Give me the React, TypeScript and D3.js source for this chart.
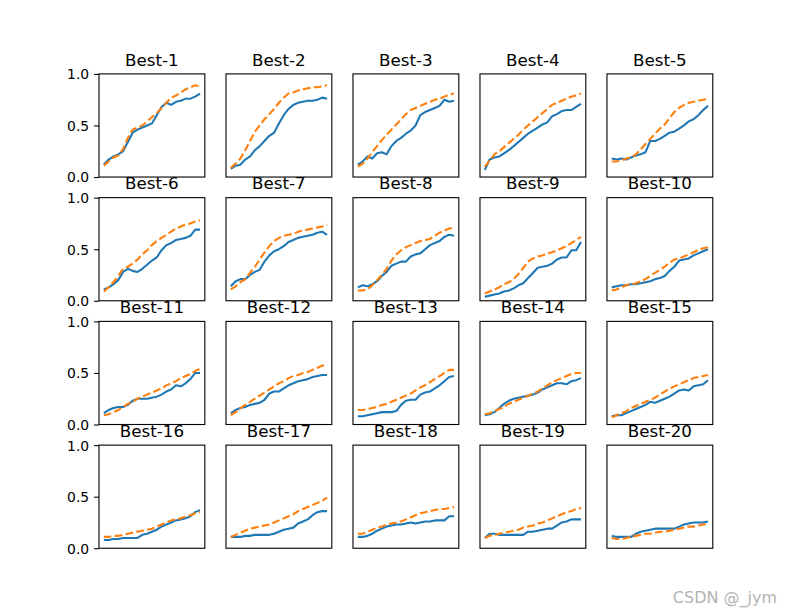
import React, { useEffect, useRef } from 'react';
import * as d3 from 'd3';

const titles = d3.range(1, 21).map(i => `Best-${i}`);
const yTicks = [0, 0.5, 1.0];

// blue solid line, one row per subplot (21 samples each)
const blueSeries: number[][] = [
  [0.12, 0.17, 0.20, 0.22, 0.25, 0.34, 0.43, 0.46, 0.48, 0.50, 0.52, 0.60, 0.68, 0.72, 0.70, 0.73, 0.74, 0.76, 0.76, 0.78, 0.81],
  [0.08, 0.11, 0.12, 0.17, 0.20, 0.26, 0.30, 0.35, 0.40, 0.43, 0.52, 0.60, 0.66, 0.70, 0.72, 0.73, 0.74, 0.74, 0.75, 0.77, 0.76],
  [0.12, 0.15, 0.20, 0.18, 0.23, 0.24, 0.22, 0.30, 0.35, 0.38, 0.42, 0.45, 0.50, 0.60, 0.63, 0.65, 0.67, 0.69, 0.75, 0.73, 0.74],
  [0.07, 0.17, 0.19, 0.20, 0.23, 0.26, 0.30, 0.34, 0.38, 0.42, 0.45, 0.48, 0.51, 0.53, 0.59, 0.61, 0.64, 0.65, 0.65, 0.68, 0.71],
  [0.18, 0.17, 0.18, 0.17, 0.19, 0.21, 0.22, 0.24, 0.35, 0.35, 0.37, 0.40, 0.43, 0.44, 0.47, 0.50, 0.54, 0.56, 0.60, 0.65, 0.69],
  [0.11, 0.13, 0.16, 0.20, 0.28, 0.31, 0.29, 0.28, 0.31, 0.35, 0.39, 0.42, 0.49, 0.54, 0.56, 0.59, 0.60, 0.61, 0.63, 0.69, 0.69],
  [0.14, 0.19, 0.21, 0.21, 0.25, 0.28, 0.30, 0.38, 0.44, 0.48, 0.50, 0.53, 0.57, 0.59, 0.61, 0.62, 0.63, 0.64, 0.66, 0.67, 0.64],
  [0.13, 0.15, 0.14, 0.16, 0.19, 0.24, 0.28, 0.34, 0.36, 0.38, 0.38, 0.43, 0.45, 0.46, 0.50, 0.54, 0.56, 0.58, 0.62, 0.64, 0.63],
  [0.04, 0.05, 0.06, 0.07, 0.09, 0.10, 0.12, 0.15, 0.17, 0.22, 0.27, 0.32, 0.33, 0.34, 0.36, 0.40, 0.42, 0.42, 0.49, 0.49, 0.57],
  [0.13, 0.14, 0.15, 0.15, 0.16, 0.16, 0.17, 0.18, 0.19, 0.21, 0.22, 0.24, 0.29, 0.33, 0.39, 0.40, 0.41, 0.44, 0.46, 0.48, 0.50],
  [0.11, 0.14, 0.16, 0.17, 0.17, 0.19, 0.23, 0.25, 0.25, 0.25, 0.26, 0.27, 0.29, 0.32, 0.34, 0.38, 0.37, 0.40, 0.44, 0.50, 0.50],
  [0.11, 0.14, 0.16, 0.17, 0.19, 0.20, 0.21, 0.24, 0.30, 0.32, 0.32, 0.35, 0.38, 0.40, 0.42, 0.43, 0.44, 0.46, 0.47, 0.48, 0.48],
  [0.08, 0.08, 0.09, 0.10, 0.11, 0.12, 0.12, 0.12, 0.13, 0.19, 0.23, 0.24, 0.24, 0.29, 0.31, 0.32, 0.35, 0.38, 0.42, 0.46, 0.47],
  [0.09, 0.10, 0.12, 0.16, 0.20, 0.23, 0.25, 0.26, 0.27, 0.28, 0.29, 0.31, 0.34, 0.36, 0.38, 0.40, 0.40, 0.39, 0.42, 0.43, 0.45],
  [0.08, 0.09, 0.09, 0.11, 0.13, 0.15, 0.17, 0.19, 0.22, 0.21, 0.23, 0.25, 0.27, 0.30, 0.33, 0.34, 0.33, 0.37, 0.38, 0.39, 0.43],
  [0.08, 0.08, 0.09, 0.09, 0.10, 0.10, 0.10, 0.10, 0.13, 0.14, 0.16, 0.18, 0.21, 0.23, 0.25, 0.27, 0.28, 0.29, 0.31, 0.35, 0.37],
  [0.11, 0.11, 0.11, 0.12, 0.12, 0.13, 0.13, 0.13, 0.13, 0.14, 0.16, 0.18, 0.19, 0.20, 0.24, 0.26, 0.28, 0.32, 0.35, 0.36, 0.36],
  [0.11, 0.11, 0.12, 0.14, 0.17, 0.19, 0.21, 0.22, 0.23, 0.23, 0.24, 0.25, 0.24, 0.25, 0.26, 0.26, 0.27, 0.27, 0.27, 0.31, 0.31],
  [0.10, 0.14, 0.14, 0.13, 0.13, 0.13, 0.13, 0.13, 0.13, 0.16, 0.16, 0.17, 0.18, 0.19, 0.19, 0.22, 0.25, 0.26, 0.28, 0.28, 0.28],
  [0.12, 0.11, 0.11, 0.11, 0.11, 0.14, 0.16, 0.17, 0.18, 0.19, 0.19, 0.19, 0.19, 0.19, 0.21, 0.23, 0.24, 0.25, 0.25, 0.25, 0.26],
];

// orange dashed line
const orangeSeries: number[][] = [
  [0.11, 0.15, 0.19, 0.21, 0.27, 0.38, 0.46, 0.48, 0.50, 0.54, 0.58, 0.62, 0.67, 0.72, 0.77, 0.79, 0.82, 0.85, 0.87, 0.89, 0.88],
  [0.09, 0.13, 0.18, 0.26, 0.35, 0.44, 0.50, 0.56, 0.61, 0.66, 0.72, 0.77, 0.81, 0.82, 0.84, 0.85, 0.86, 0.87, 0.87, 0.88, 0.89],
  [0.10, 0.13, 0.18, 0.24, 0.30, 0.36, 0.41, 0.46, 0.51, 0.56, 0.61, 0.65, 0.67, 0.69, 0.71, 0.73, 0.75, 0.76, 0.78, 0.80, 0.81],
  [0.10, 0.16, 0.22, 0.25, 0.29, 0.33, 0.37, 0.41, 0.46, 0.50, 0.54, 0.58, 0.62, 0.66, 0.70, 0.72, 0.74, 0.76, 0.78, 0.79, 0.81],
  [0.15, 0.15, 0.16, 0.18, 0.19, 0.22, 0.27, 0.32, 0.37, 0.42, 0.47, 0.51, 0.57, 0.63, 0.67, 0.70, 0.72, 0.73, 0.74, 0.75, 0.76],
  [0.09, 0.13, 0.18, 0.24, 0.31, 0.33, 0.36, 0.40, 0.45, 0.49, 0.54, 0.58, 0.61, 0.64, 0.67, 0.70, 0.72, 0.74, 0.75, 0.77, 0.78],
  [0.11, 0.14, 0.18, 0.21, 0.27, 0.33, 0.40, 0.47, 0.53, 0.58, 0.61, 0.63, 0.64, 0.65, 0.67, 0.68, 0.69, 0.70, 0.71, 0.72, 0.74],
  [0.10, 0.10, 0.11, 0.15, 0.20, 0.25, 0.31, 0.39, 0.45, 0.49, 0.52, 0.54, 0.56, 0.58, 0.59, 0.60, 0.63, 0.66, 0.68, 0.70, 0.71],
  [0.07, 0.09, 0.11, 0.13, 0.16, 0.18, 0.21, 0.26, 0.32, 0.38, 0.41, 0.43, 0.44, 0.46, 0.47, 0.49, 0.51, 0.53, 0.56, 0.59, 0.62],
  [0.10, 0.11, 0.13, 0.15, 0.16, 0.17, 0.19, 0.21, 0.24, 0.27, 0.30, 0.33, 0.37, 0.40, 0.41, 0.43, 0.45, 0.47, 0.49, 0.51, 0.52],
  [0.09, 0.10, 0.12, 0.14, 0.17, 0.20, 0.22, 0.25, 0.27, 0.29, 0.31, 0.33, 0.35, 0.38, 0.40, 0.42, 0.45, 0.47, 0.49, 0.52, 0.54],
  [0.09, 0.12, 0.16, 0.19, 0.22, 0.25, 0.28, 0.31, 0.34, 0.37, 0.40, 0.42, 0.45, 0.47, 0.48, 0.50, 0.51, 0.53, 0.55, 0.57, 0.59],
  [0.14, 0.14, 0.15, 0.16, 0.17, 0.19, 0.20, 0.22, 0.24, 0.26, 0.28, 0.30, 0.33, 0.36, 0.38, 0.41, 0.44, 0.47, 0.50, 0.53, 0.53],
  [0.10, 0.11, 0.13, 0.15, 0.17, 0.20, 0.22, 0.24, 0.26, 0.28, 0.30, 0.32, 0.35, 0.38, 0.41, 0.43, 0.45, 0.47, 0.49, 0.50, 0.50],
  [0.07, 0.09, 0.11, 0.13, 0.16, 0.18, 0.20, 0.22, 0.24, 0.26, 0.29, 0.32, 0.35, 0.37, 0.39, 0.41, 0.43, 0.45, 0.46, 0.47, 0.48],
  [0.11, 0.11, 0.12, 0.12, 0.13, 0.14, 0.15, 0.16, 0.17, 0.18, 0.19, 0.21, 0.23, 0.25, 0.27, 0.28, 0.29, 0.31, 0.32, 0.34, 0.35],
  [0.11, 0.13, 0.15, 0.17, 0.19, 0.20, 0.21, 0.22, 0.23, 0.25, 0.27, 0.29, 0.31, 0.33, 0.36, 0.38, 0.40, 0.42, 0.44, 0.46, 0.49],
  [0.14, 0.14, 0.16, 0.18, 0.20, 0.21, 0.23, 0.24, 0.25, 0.26, 0.28, 0.30, 0.32, 0.34, 0.35, 0.36, 0.37, 0.38, 0.38, 0.39, 0.40],
  [0.10, 0.12, 0.13, 0.14, 0.15, 0.16, 0.17, 0.18, 0.20, 0.21, 0.22, 0.24, 0.25, 0.27, 0.29, 0.31, 0.33, 0.35, 0.36, 0.38, 0.39],
  [0.10, 0.09, 0.09, 0.10, 0.11, 0.12, 0.13, 0.14, 0.14, 0.15, 0.16, 0.16, 0.17, 0.18, 0.19, 0.20, 0.21, 0.21, 0.22, 0.23, 0.24],
];

const W = 792;
const H = 616;
const FONT = 'DejaVu Sans, sans-serif';

const App: React.FC = () => {
  const svgRef = useRef<SVGSVGElement>(null);

  useEffect(() => {
    if (!svgRef.current) return;
    const svg = d3.select(svgRef.current);
    svg.selectAll('*').remove();

    // matplotlib subplot grid: left .125, right .9, bottom .11, top .88, wspace/hspace .2
    const cols = 5, rows = 4;
    const left = 0.125 * W, right = 0.9 * W;
    const top = (1 - 0.88) * H, bottom = (1 - 0.11) * H;
    const aw = (right - left) / (cols + (cols - 1) * 0.2);
    const ah = (bottom - top) / (rows + (rows - 1) * 0.2);

    svg.append('rect').attr('width', W).attr('height', H).attr('fill', '#fff');

    titles.forEach((title, idx) => {
      const r = Math.floor(idx / cols);
      const c = idx % cols;
      const x0 = left + c * aw * 1.2;
      const y0 = top + r * ah * 1.2;
      const n = blueSeries[idx].length;

      const x = d3.scaleLinear().domain([-(n - 1) * 0.05, (n - 1) * 1.05]).range([x0, x0 + aw]);
      const y = d3.scaleLinear().domain([0, 1]).range([y0 + ah, y0]);

      const g = svg.append('g');
      const clipId = `clip-${idx}`;
      g.append('clipPath').attr('id', clipId)
        .append('rect').attr('x', x0).attr('y', y0).attr('width', aw).attr('height', ah);

      const line = d3.line<number>().x((_, i) => x(i)).y(d => y(d));

      g.append('path')
        .datum(blueSeries[idx])
        .attr('clip-path', `url(#${clipId})`)
        .attr('fill', 'none')
        .attr('stroke', '#1f77b4')
        .attr('stroke-width', 2.08)
        .attr('stroke-linejoin', 'round')
        .attr('d', line);

      g.append('path')
        .datum(orangeSeries[idx])
        .attr('clip-path', `url(#${clipId})`)
        .attr('fill', 'none')
        .attr('stroke', '#ff7f0e')
        .attr('stroke-width', 2.08)
        .attr('stroke-dasharray', '7.7,3.3')
        .attr('d', line);

      // spines
      g.append('rect')
        .attr('x', x0).attr('y', y0).attr('width', aw).attr('height', ah)
        .attr('fill', 'none').attr('stroke', '#000').attr('stroke-width', 1.1);

      g.append('text')
        .attr('x', x0 + aw / 2)
        .attr('y', y0 - 8.3)
        .attr('text-anchor', 'middle')
        .attr('font-family', FONT)
        .attr('font-size', '16.7px')
        .text(title);

      if (c === 0) {
        const axis = g.append('g')
          .attr('transform', `translate(${x0},0)`)
          .call(d3.axisLeft(y).tickValues(yTicks).tickSize(4.9).tickPadding(4.9).tickFormat(d3.format('.1f')));
        axis.select('.domain').remove();
        axis.selectAll('line').attr('stroke', '#000').attr('stroke-width', 1.1);
        axis.selectAll('text')
          .attr('font-family', FONT)
          .attr('font-size', '13.9px')
          .attr('fill', '#000')
          .attr('dy', '0.35em');
      }
    });

    svg.append('text')
      .attr('x', 777)
      .attr('y', 603)
      .attr('text-anchor', 'end')
      .attr('font-family', FONT)
      .attr('font-size', '16px')
      .attr('fill', '#b4b4b4')
      .text('CSDN @_jym');
  }, []);

  return (
    <svg
      ref={svgRef}
      width={W}
      height={H}
      style={{ position: 'absolute', left: 0, top: 0, display: 'block' }}
    />
  );
};

export default App;
